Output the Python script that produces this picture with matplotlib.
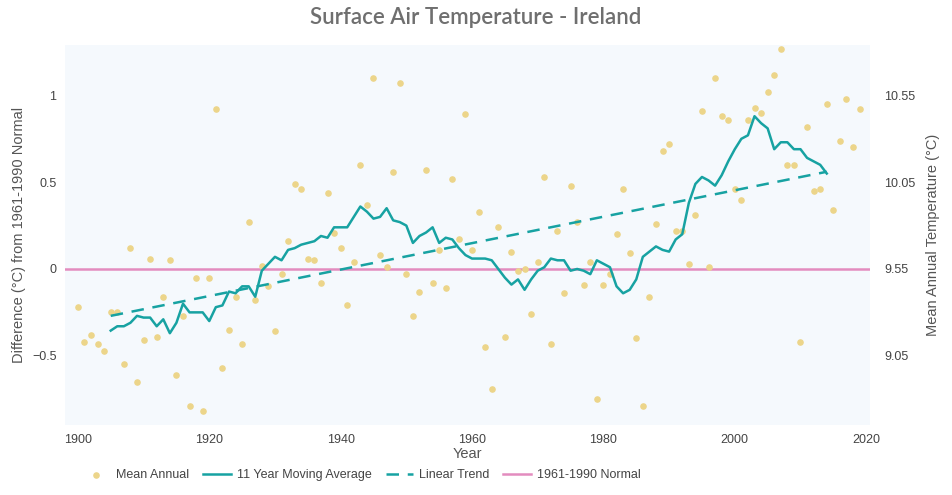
import numpy as np
import matplotlib.pyplot as plt

plt.rcParams['font.family'] = ['Liberation Sans', 'DejaVu Sans']

years = np.arange(1900, 2020)
anomaly = [-0.22, -0.42, -0.38, -0.43, -0.47, -0.25, -0.25, -0.55, 0.12, -0.65,
           -0.41, 0.06, -0.39, -0.16, 0.05, -0.61, -0.27, -0.79, -0.05, -0.82,
           -0.05, 0.92, -0.57, -0.35, -0.16, -0.43, 0.27, -0.18, 0.02, -0.10,
           -0.36, -0.03, 0.16, 0.49, 0.46, 0.06, 0.05, -0.08, 0.44, 0.21,
           0.12, -0.21, 0.04, 0.60, 0.37, 1.10, 0.08, 0.01, 0.56, 1.07,
           -0.03, -0.27, -0.13, 0.57, -0.08, 0.11, -0.11, 0.52, 0.17, 0.89,
           0.11, 0.33, -0.45, -0.69, 0.24, -0.39, 0.10, -0.01, 0.00, -0.26,
           0.04, 0.53, -0.43, 0.22, -0.14, 0.48, 0.27, -0.09, 0.04, -0.75,
           -0.09, -0.03, 0.20, 0.46, 0.09, -0.40, -0.79, -0.16, 0.26, 0.68,
           0.72, 0.22, 0.22, 0.03, 0.31, 0.91, 0.01, 1.10, 0.88, 0.86,
           0.46, 0.40, 0.86, 0.93, 0.90, 1.02, 1.12, 1.27, 0.60, 0.60,
           -0.42, 0.82, 0.45, 0.46, 0.95, 0.34, 0.74, 0.98, 0.70, 0.92]

ma_years = np.arange(1905, 2015)
moving_avg = [-0.355, -0.33, -0.33, -0.31, -0.27, -0.28, -0.28, -0.33, -0.29, -0.37,
              -0.31, -0.20, -0.25, -0.25, -0.25, -0.30, -0.22, -0.21, -0.13, -0.14,
              -0.10, -0.10, -0.16, -0.01, 0.03, 0.07, 0.05, 0.11, 0.12, 0.14,
              0.15, 0.16, 0.19, 0.18, 0.24, 0.24, 0.24, 0.30, 0.36, 0.33,
              0.29, 0.30, 0.35, 0.28, 0.27, 0.25, 0.15, 0.19, 0.21, 0.24,
              0.15, 0.18, 0.17, 0.12, 0.08, 0.06, 0.06, 0.06, 0.05, 0.00,
              -0.05, -0.09, -0.06, -0.12, -0.06, -0.01, 0.01, 0.06, 0.05, 0.05,
              -0.01, 0.00, -0.01, -0.03, 0.05, 0.03, 0.01, -0.10, -0.14, -0.12,
              -0.06, 0.07, 0.10, 0.13, 0.11, 0.10, 0.17, 0.20, 0.38, 0.49,
              0.53, 0.51, 0.48, 0.54, 0.62, 0.69, 0.75, 0.77, 0.88, 0.84,
              0.81, 0.69, 0.73, 0.73, 0.69, 0.69, 0.64, 0.62, 0.60, 0.55, 0.58]
moving_avg = moving_avg[:len(ma_years)]

trend_years = [1905, 2014]
trend_vals = [-0.27, 0.56]
normal_mean = 9.55

fig = plt.figure(figsize=(9.52, 4.95), dpi=100)
ax = fig.add_axes([0.068, 0.141, 0.846, 0.768])
ax.set_facecolor('#f5f9fd')
for s in ax.spines.values():
    s.set_visible(False)

ax.scatter(years, anomaly, s=14, color='#ecd58a', zorder=2, label='Mean Annual')
ax.plot(ma_years, moving_avg, color='#17a2a2', lw=1.8, zorder=3, label='11 Year Moving Average')
ax.plot(trend_years, trend_vals, color='#17a2a2', lw=1.8, ls=(0, (5, 3.5)), zorder=3, label='Linear Trend')
ax.axhline(0, color='#e38cbf', lw=1.8, zorder=1, label='1961-1990 Normal')

ax.set_xlim(1898, 2020.6)
ax.set_ylim(-0.9, 1.29)
ax.set_xticks([1900, 1920, 1940, 1960, 1980, 2000, 2020])
ax.set_yticks([-0.5, 0, 0.5, 1])
ax.set_yticklabels(['−0.5', '0', '0.5', '1'])
ax.tick_params(length=0, labelsize=9, colors='#444', pad=6)
ax.set_xlabel('Year', fontsize=10.5, color='#555', labelpad=1)
ax.set_ylabel('Difference (°C) from 1961-1990 Normal', fontsize=10.5, color='#555')

ax2 = ax.secondary_yaxis('right', functions=(lambda v: v + normal_mean, lambda v: v - normal_mean))
ax2.set_yticks([9.05, 9.55, 10.05, 10.55])
ax2.tick_params(length=0, labelsize=9, colors='#444', pad=10)
ax2.spines['right'].set_visible(False)
ax2.set_ylabel('Mean Annual Temperature (°C)', fontsize=10.5, color='#555', labelpad=8)

fig.suptitle('Surface Air Temperature - Ireland', fontsize=16, color='#6f6f6f', y=0.985,
             family=['Lato', 'DejaVu Sans'], fontweight='semibold')
fig.legend(loc='lower left', bbox_to_anchor=(0.075, 0.005), ncol=4, frameon=False,
           fontsize=9, labelcolor='#444', handlelength=2.2, handletextpad=0.5,
           columnspacing=1.1, scatterpoints=1)

fig.savefig('out.png', dpi=100)
